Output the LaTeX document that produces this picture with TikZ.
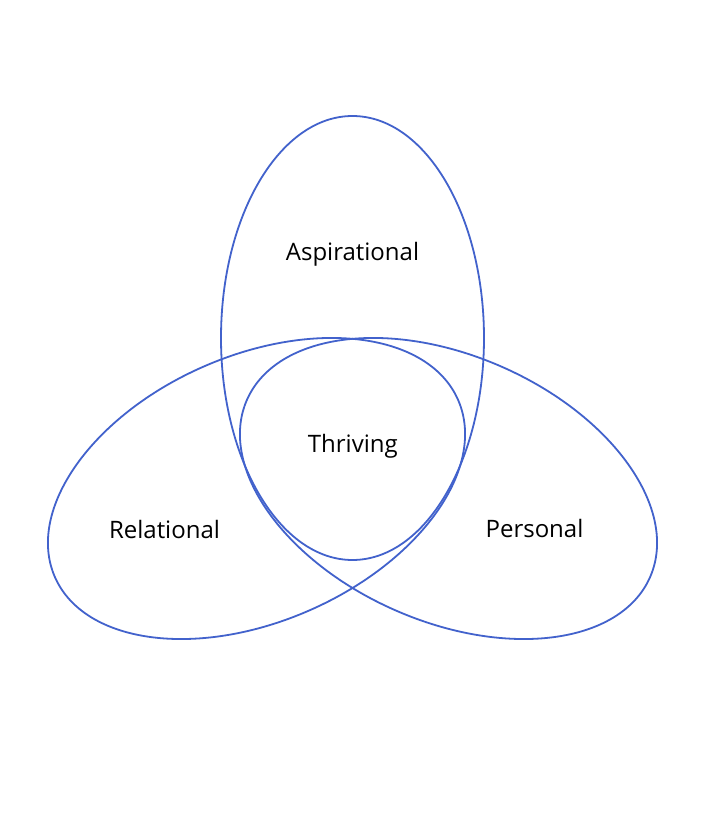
\documentclass[tikz,border=0pt]{standalone}
\usepackage{fontspec}
\setmainfont{Open Sans}
\definecolor{ringblue}{HTML}{4262CC}
\begin{document}
\begin{tikzpicture}[x=1pt,y=1pt,
  ring/.style={draw=ringblue,line width=1.8pt},
  lbl/.style={anchor=base,inner sep=0pt,font=\fontsize{24}{28}\selectfont,text=black}]
\useasboundingbox[fill=white] (0,0) rectangle (706,820);
% top (Aspirational) ellipse
\draw[ring] (352.5,482) ellipse [x radius=131.5, y radius=222];
% Relational ellipse
\draw[ring,rotate around={23.75:(256.5,331.5)}] (256.5,331.5) ellipse [x radius=220.2, y radius=132.9];
% Personal ellipse
\draw[ring,rotate around={-23.75:(448.5,331.5)}] (448.5,331.5) ellipse [x radius=220.2, y radius=132.9];
\node[lbl] (asp) at (352.5,559) {Aspirational};
\node[lbl] (thr) at (352.8,367.3) {Thriving};
\node[lbl] (rel) at (164.5,281.7) {Relational};
\node[lbl] (per) at (534.5,282.3) {Personal};
\end{tikzpicture}
\end{document}
